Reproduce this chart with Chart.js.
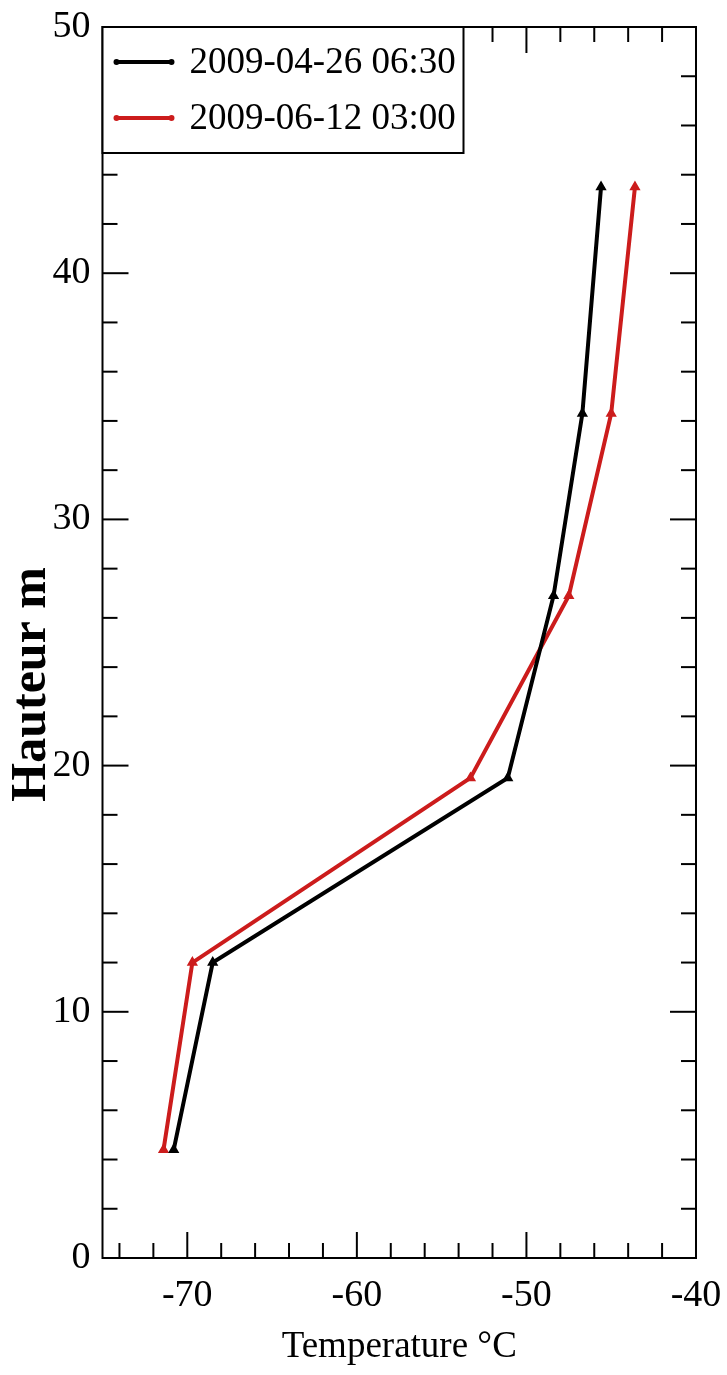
<!DOCTYPE html>
<html>
<head>
<meta charset="utf-8">
<script src="https://cdn.jsdelivr.net/npm/chart.js@4/dist/chart.umd.min.js"></script>
<style>
  body { margin: 0; background: #fff; }
</style>
</head>
<body>
<canvas id="profilChart" width="727" height="1375"></canvas>
<script>
// Profils de temperature (hauteur en m, temperature en degC)
const hauteurs = [4.4, 12.0, 19.5, 26.9, 34.3, 43.5];
const tempAvril = [-70.8, -68.5, -51.1, -48.4, -46.7, -45.6];
const tempJuin = [-71.4, -69.7, -53.3, -47.5, -45.0, -43.6];
const labelsSeries = ["2009-04-26 06:30", "2009-06-12 03:00"];

// Graduations
const xTicks = [-70, -60, -50, -40];
const yTicks = [0, 10, 20, 30, 40, 50];
const xMinor = [-74, -72, -68, -66, -64, -62, -58, -56, -54, -52, -48, -46, -44, -42];
const yMinor = [2, 4, 6, 8, 12, 14, 16, 18, 22, 24, 26, 28, 32, 34, 36, 38, 42, 44, 46, 48];

const serif = "'Liberation Serif', 'DejaVu Serif', serif";
const rouge = "#cc1c1c";

function toPoints(temps) {
    return temps.map((t, i) => ({ x: t, y: hauteurs[i] }));
}

// Cadre, graduations vers l'interieur, titre Y et legende encadree
const cadrePlugin = {
    id: "cadre",
    afterDraw(chart) {
        const ctx = chart.ctx;
        const a = chart.chartArea;
        const xs = chart.scales.x;
        const ys = chart.scales.y;
        const major = 26, minor = 15;

        ctx.save();
        ctx.strokeStyle = "#000";
        ctx.lineWidth = 2;

        const tick = (x1, y1, x2, y2) => {
            ctx.beginPath();
            ctx.moveTo(x1, y1);
            ctx.lineTo(x2, y2);
            ctx.stroke();
        };

        xTicks.forEach((v) => {
            const px = xs.getPixelForValue(v);
            tick(px, a.bottom, px, a.bottom - major);
            tick(px, a.top, px, a.top + major);
        });
        xMinor.forEach((v) => {
            const px = xs.getPixelForValue(v);
            tick(px, a.bottom, px, a.bottom - minor);
            tick(px, a.top, px, a.top + minor);
        });
        yTicks.forEach((v) => {
            const py = ys.getPixelForValue(v);
            tick(a.left, py, a.left + major, py);
            tick(a.right, py, a.right - major, py);
        });
        yMinor.forEach((v) => {
            const py = ys.getPixelForValue(v);
            tick(a.left, py, a.left + minor, py);
            tick(a.right, py, a.right - minor, py);
        });

        ctx.strokeRect(a.left, a.top, a.right - a.left, a.bottom - a.top);

        // Titre de l'axe Y (un peu plus bas que le centre, comme l'original)
        ctx.save();
        ctx.translate(32, ys.getPixelForValue(23.3));
        ctx.rotate(-Math.PI / 2);
        ctx.fillStyle = "#000";
        ctx.font = "bold 50px " + serif;
        ctx.textAlign = "center";
        ctx.textBaseline = "middle";
        ctx.fillText("Hauteur m", 0, 0);
        ctx.restore();

        // Legende
        const lx = a.left, ly = a.top, lw = 361, lh = 126;
        ctx.fillStyle = "#fff";
        ctx.fillRect(lx, ly, lw, lh);
        ctx.strokeRect(lx, ly, lw, lh);

        ctx.font = "37px " + serif;
        ctx.textBaseline = "middle";
        chart.data.datasets.forEach((ds, i) => {
            const yy = ly + 35 + i * 56;
            ctx.strokeStyle = ds.borderColor;
            ctx.lineWidth = 4;
            tick(lx + 13, yy, lx + 70, yy);
            ctx.fillStyle = ds.borderColor;
            ctx.beginPath();
            ctx.arc(lx + 14, yy, 3, 0, Math.PI * 2);
            ctx.arc(lx + 69, yy, 3, 0, Math.PI * 2);
            ctx.fill();
            ctx.fillStyle = "#000";
            ctx.fillText(ds.label, lx + 87, yy + 1);
        });
        ctx.restore();
    },
};

document.addEventListener("DOMContentLoaded", function () {
    const el = document.getElementById("profilChart");

    new Chart(el.getContext("2d"), {
        type: "line",
        data: {
            datasets: [
                {
                    label: labelsSeries[0],
                    data: toPoints(tempAvril),
                    borderColor: "#000",
                    backgroundColor: "#000",
                    borderWidth: 4,
                    pointRadius: 2.5,
                    pointStyle: "triangle",
                    tension: 0,
                },
                {
                    label: labelsSeries[1],
                    data: toPoints(tempJuin),
                    borderColor: rouge,
                    backgroundColor: rouge,
                    borderWidth: 4,
                    pointRadius: 2.5,
                    pointStyle: "triangle",
                    tension: 0,
                },
            ],
        },
        options: {
            responsive: false,
            animation: false,
            layout: { padding: { left: 0, right: 31, top: 27, bottom: 0 } },
            plugins: {
                legend: { display: false },
                tooltip: { enabled: false },
            },
            scales: {
                x: {
                    type: "linear",
                    position: "bottom",
                    min: -75,
                    max: -40,
                    afterBuildTicks: (s) => { s.ticks = xTicks.map((v) => ({ value: v })); },
                    afterFit: (s) => {
                        s.height = 117;
                        s.paddingLeft = 0;
                        s.paddingRight = 0;
                    },
                    grid: { display: false, drawTicks: false },
                    border: { display: false },
                    ticks: {
                        autoSkip: false,
                        maxRotation: 0,
                        padding: 15,
                        color: "#000",
                        font: { family: serif, size: 38 },
                    },
                    title: {
                        display: true,
                        text: "Temperature °C",
                        color: "#000",
                        font: { family: serif, size: 37 },
                        padding: { top: 0, bottom: 6 },
                    },
                },
                y: {
                    type: "linear",
                    min: 0,
                    max: 50,
                    afterBuildTicks: (s) => { s.ticks = yTicks.map((v) => ({ value: v })); },
                    afterFit: (s) => {
                        s.width = 102.5;
                        s.paddingTop = 0;
                        s.paddingBottom = 0;
                    },
                    grid: { display: false, drawTicks: false },
                    border: { display: false },
                    ticks: {
                        padding: 12,
                        color: "#000",
                        font: { family: serif, size: 38 },
                    },
                    title: { display: false },
                },
            },
        },
        plugins: [cadrePlugin],
    });
});
</script>
</body>
</html>
